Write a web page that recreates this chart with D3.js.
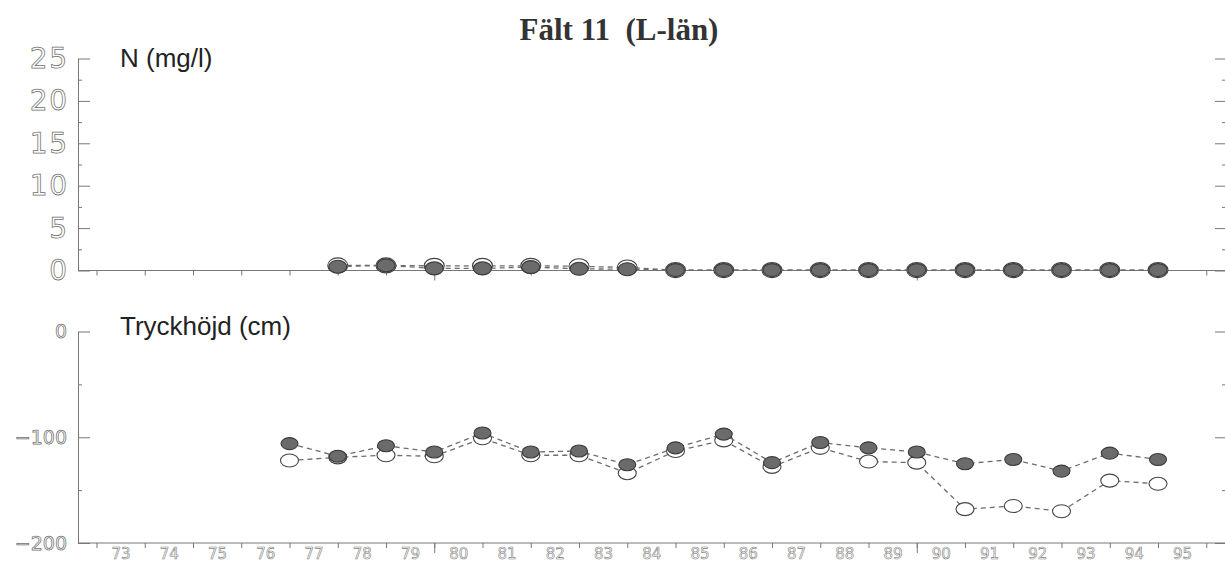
<!DOCTYPE html>
<html>
<head>
<meta charset="utf-8">
<script src="https://cdn.jsdelivr.net/npm/d3@7"></script>
<style>
  html, body { margin: 0; padding: 0; background: #fff; }
  svg { display: block; }
  .ylab text { font-family: "DejaVu Sans", sans-serif; fill: none; stroke: #707070; stroke-width: 0.75px; }
  .xlab text { font-family: "DejaVu Sans", sans-serif; fill: none; stroke: #808080; stroke-width: 0.6px; }
  .tick line, .domain { stroke: #777; }
</style>
</head>
<body>
<svg id="chart" width="1225" height="563"></svg>
<script>
// Fält 11 (L-län): nitrogen concentration and pressure head, 1973–1995

// years on the x axis (labels) and tick boundaries
const yearLabels = d3.range(73, 96);          // 73 … 95
const yearTicks = d3.range(73, 97);           // year boundaries
const decadeTicks = [80, 90];

// N (mg/l), sampled 1978–1995
const nYears = d3.range(78, 96);
const nFilled = [0.45, 0.6, 0.25, 0.25, 0.4, 0.2, 0.15, 0.05, 0.05, 0.05, 0.05, 0.05, 0.05, 0.05, 0.05, 0.05, 0.05, 0.05];
const nOpen   = [0.6, 0.6, 0.55, 0.55, 0.55, 0.5, 0.35, 0.05, 0.05, 0.05, 0.05, 0.05, 0.05, 0.05, 0.05, 0.05, 0.05, 0.05];

// Tryckhöjd (cm), measured 1977–1995
const pYears = d3.range(77, 96);
const pFilled = [-106, -118, -108, -114, -96, -114, -113, -126, -110, -97, -124, -105, -110, -114, -125, -121, -132, -115, -121];
const pOpen   = [-122, -119, -117, -118, -101, -117, -117, -134, -113, -103, -128, -110, -123, -124, -168, -165, -170, -141, -144];

// axis tick values
const nMajor = [0, 5, 10, 15, 20, 25];
const nMinor = [2.5, 7.5, 12.5, 17.5, 22.5];
const pMajor = [-200, -100, 0];
const pMinor = [-150, -50];

const svg = d3.select("#chart");

const x = d3.scaleLinear().domain([73, 96]).range([96.5, 1206.25]);
const yN = d3.scaleLinear().domain([0, 25]).range([270.5, 58.5]);
const yP = d3.scaleLinear().domain([-200, 0]).range([543, 331.5]);

const leftX = 78, rightX = 1225, rightEnd = 1225;

// title
svg.append("text")
  .attr("x", 619).attr("y", 40)
  .attr("text-anchor", "middle")
  .style("white-space", "pre")
  .style("font-family", "'Liberation Serif', 'Times New Roman', serif")
  .style("font-weight", "bold")
  .style("font-size", "31px")
  .style("fill", "#333")
  .text("Fält 11  (L-län)");

function panel(y, major, minor, labelSize, spacing, title, titleY) {
  const g = svg.append("g");
  // left axis, ticks pointing inward
  g.append("g").attr("class", "ylab")
    .attr("transform", `translate(${leftX},0)`)
    .call(d3.axisLeft(y).tickValues(major).tickSizeInner(-12).tickSizeOuter(0).tickPadding(11 - spacing))
    .call(s => s.selectAll("text").style("font-size", labelSize + "px").style("letter-spacing", spacing + "px"))
    .call(s => s.select(".domain").attr("stroke", "#777"));
  g.append("g")
    .attr("transform", `translate(${leftX},0)`)
    .call(d3.axisLeft(y).tickValues(minor).tickSizeInner(-4).tickSizeOuter(0).tickFormat(""))
    .call(s => s.select(".domain").remove());
  // right-side ticks
  g.append("g")
    .attr("transform", `translate(${rightX},0)`)
    .call(d3.axisRight(y).tickValues(major).tickSizeInner(-10).tickSizeOuter(0).tickFormat(""))
    .call(s => s.select(".domain").remove());
  g.append("g")
    .attr("transform", `translate(${rightX},0)`)
    .call(d3.axisRight(y).tickValues(minor).tickSizeInner(-3).tickSizeOuter(0).tickFormat(""))
    .call(s => s.select(".domain").remove());
  // bottom axis line with year ticks below
  const y0 = y.range()[0];
  g.append("line")
    .attr("x1", leftX).attr("x2", rightEnd)
    .attr("y1", y0).attr("y2", y0)
    .attr("stroke", "#777");
  g.append("g")
    .attr("transform", `translate(0,${y0})`)
    .call(d3.axisBottom(x).tickValues(yearTicks).tickSizeInner(5).tickSizeOuter(0).tickFormat(""))
    .call(s => s.select(".domain").remove());
  g.append("g")
    .attr("transform", `translate(0,${y0})`)
    .call(d3.axisBottom(x).tickValues(decadeTicks).tickSizeInner(10).tickSizeOuter(0).tickFormat(""))
    .call(s => s.select(".domain").remove());
  // panel title
  g.append("text")
    .attr("x", 120).attr("y", titleY)
    .style("font-family", "'Liberation Sans', Arial, sans-serif")
    .style("font-size", "26px")
    .style("fill", "#222")
    .text(title);
  return g;
}

panel(yN, nMajor, nMinor, 28, 1.5, "N (mg/l)", 67);
panel(yP, pMajor, pMinor, 19, 0, "Tryckhöjd (cm)", 335);

// year labels under the lower panel, centred in each year
svg.append("g").attr("class", "xlab")
  .attr("transform", `translate(0,543)`)
  .call(d3.axisBottom(x).tickValues(yearLabels.map(d => d + 0.5)).tickSize(0).tickPadding(5)
        .tickFormat(d => String(Math.floor(d))))
  .call(s => s.select(".domain").remove())
  .call(s => s.selectAll("text").style("font-size", "15px"));

function series(years, vals, y, filled, rx, ry) {
  const pts = years.map((yr, i) => [x(yr), y(vals[i])]);
  svg.append("path")
    .attr("d", d3.line()(pts))
    .attr("fill", "none")
    .attr("stroke", "#6d6d6d")
    .attr("stroke-width", 1.3)
    .attr("stroke-dasharray", "5,4");
  svg.append("g").selectAll("ellipse")
    .data(pts).join("ellipse")
    .attr("cx", d => d[0]).attr("cy", d => d[1])
    .attr("rx", rx).attr("ry", ry)
    .attr("fill", filled ? "#6b6b6b" : "#fff")
    .attr("stroke", filled ? "#3a3a3a" : "#444")
    .attr("stroke-width", 1.1);
}

// top panel: open first, filled on top
series(nYears, nOpen, yN, false, 10, 7.5);
series(nYears, nFilled, yN, true, 9, 6.5);

// lower panel
series(pYears, pOpen, yP, false, 9, 6.5);
series(pYears, pFilled, yP, true, 8.5, 6);
</script>
</body>
</html>
